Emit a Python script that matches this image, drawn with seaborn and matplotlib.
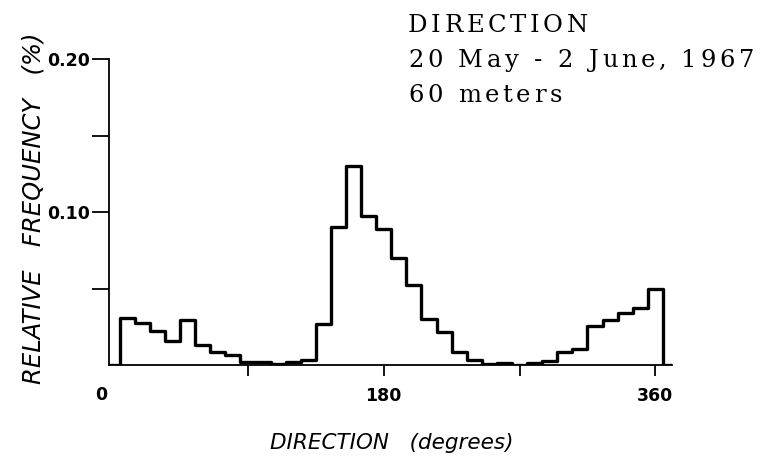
import numpy as np
import pandas as pd
import matplotlib
matplotlib.use("Agg")
import matplotlib.pyplot as plt
import seaborn as sns

# bin centres (degrees) and relative frequency
direction = [10, 20, 30, 40, 50, 60, 70, 80, 90, 100, 110, 120,
             130, 140, 150, 160, 170, 180, 190, 200, 210, 220, 230, 240,
             250, 260, 270, 280, 290, 300, 310, 320, 330, 340, 350, 360]
rel_freq = [0.031, 0.0275, 0.0225, 0.0157, 0.0293, 0.013, 0.0088, 0.0066, 0.0022, 0.0022, 0.0008, 0.0017,
            0.0032, 0.027, 0.0905, 0.130, 0.0974, 0.0888, 0.070, 0.0524, 0.030, 0.0216, 0.0085, 0.003,
            0.0008, 0.0015, 0.0, 0.001, 0.0026, 0.0084, 0.0104, 0.0253, 0.0297, 0.034, 0.0372, 0.0494]

xticks = [90, 180, 270, 360]
xticklabels = ["", "180", "", "360"]
yticks = [0.10, 0.20]
yticklabels = ["0.10", "0.20"]
title_lines = ["DIRECTION", "20 May - 2 June, 1967", "60 meters"]

df = pd.DataFrame({"direction": direction, "freq": rel_freq})

sns.set_style("ticks")
plt.rcParams["font.family"] = ["DejaVu Sans"]
plt.rcParams.update({"text.color": "black", "axes.labelcolor": "black",
                     "xtick.color": "black", "ytick.color": "black"})

W, H = 771, 466
fig = plt.figure(figsize=(W / 100, H / 100), dpi=100)
ax = fig.add_axes([109 / W, 101 / H, 563 / W, 306 / H])

# empty bins at each end so the outline drops to the baseline
edges = [float(e) for e in np.arange(-5, 376, 10)]
sns.histplot(data=df, x="direction", weights="freq", bins=edges,
             element="step", fill=False, color="black", linewidth=2.4, ax=ax)

ax.set_xlim(-2, 371)
ax.set_ylim(0, 0.20)
sns.despine(ax=ax)
for s in ["left", "bottom"]:
    ax.spines[s].set_linewidth(1.3)
    ax.spines[s].set_color("black")

ax.set_xticks(xticks, xticklabels)
ax.set_yticks(yticks, yticklabels)
ax.set_yticks([0.05, 0.15], minor=True)
ax.tick_params(axis="y", which="both", length=12, width=1.3, pad=2, labelsize=12.5)
ax.tick_params(axis="x", length=8, width=1.3, pad=8, labelsize=12.5)
for lab in ax.get_xticklabels() + ax.get_yticklabels():
    lab.set_fontweight("bold")
ax.annotate("0", xy=(-7, 0), xycoords=("data", "axes fraction"), xytext=(0, -15),
            textcoords="offset points", ha="center", va="top", fontsize=12.5, fontweight="bold")

ax.set_xlabel("DIRECTION   (degrees)", fontsize=15.5, style="italic")
ax.xaxis.set_label_coords((392 - 109) / 563, -68 / 306)
ax.set_ylabel("RELATIVE   FREQUENCY   (%)", fontsize=17.5, style="italic")
ax.yaxis.set_label_coords(-63 / 563, (365 - 208) / 306)

# typewritten title block, drawn with a little letter spacing
renderer = fig.canvas.get_renderer()
size, track = 17.5, 3.6
for i, line in enumerate(title_lines):
    x = 408.0
    y = 1 - (32 + 35 * i) / H
    for ch in line:
        if ch == " ":
            x += size * 100 / 72 * 0.34 + track
            continue
        t = fig.text(x / W, y, ch, family="DejaVu Serif", fontsize=size,
                     ha="left", va="baseline", color="black")
        x += t.get_window_extent(renderer).width + track

fig.savefig("out.png", dpi=100, facecolor="white")
